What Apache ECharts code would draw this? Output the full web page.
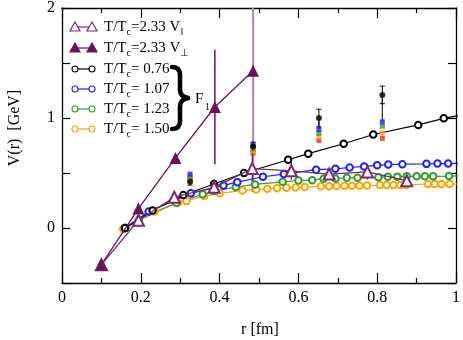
<!DOCTYPE html>
<html>
<head>
<meta charset="utf-8">
<script src="https://cdn.jsdelivr.net/npm/echarts@6/dist/echarts.min.js"></script>
<style>
  html, body { margin: 0; padding: 0; background: #fff; }
  #chart { width: 463px; height: 340px; }
</style>
</head>
<body>
<div id="chart"></div>
<script>
// T/Tc=2.33, perpendicular (filled triangles)
const rPerp = [0.1, 0.194, 0.288, 0.388, 0.485]
const vPerp = [-0.333, 0.177, 0.637, 1.10, 1.43]
const ePerp = [0, 0, 0, 0.52, 1.05]

// T/Tc=2.33, parallel (open triangles)
const rPar = [0.1, 0.194, 0.285, 0.386, 0.483, 0.582, 0.678, 0.775, 0.875]
const vPar = [-0.333, 0.07, 0.28, 0.37, 0.54, 0.52, 0.49, 0.51, 0.43]
const ePar = [0, 0.02, 0.03, 0.07, 0.21, 0.08, 0.03, 0.07, 0.05]

// F1 curves
const r076 = [0.16, 0.23, 0.308, 0.386, 0.462, 0.574, 0.625, 0.715, 0.79, 0.904, 0.969, 1.03]
const v076 = [0.0, 0.16, 0.30, 0.40, 0.50, 0.62, 0.676, 0.766, 0.85, 0.937, 0.997, 1.04]

const r107 = [0.16, 0.22, 0.327, 0.41, 0.445, 0.51, 0.563, 0.645, 0.694, 0.73, 0.767, 0.80, 0.828, 0.864, 0.925, 0.953, 0.98, 1.03]
const v107 = [0.0, 0.15, 0.315, 0.387, 0.417, 0.466, 0.49, 0.53, 0.538, 0.55, 0.56, 0.57, 0.577, 0.58, 0.583, 0.586, 0.586, 0.59]

const r123 = [0.16, 0.195, 0.29, 0.357, 0.386, 0.441, 0.49, 0.56, 0.60, 0.635, 0.664, 0.694, 0.723, 0.75, 0.803, 0.827, 0.851, 0.875, 0.9, 0.921, 0.942, 0.982, 1.03]
const v123 = [0.0, 0.07, 0.23, 0.306, 0.336, 0.372, 0.396, 0.42, 0.432, 0.435, 0.448, 0.45, 0.456, 0.456, 0.462, 0.465, 0.467, 0.47, 0.47, 0.47, 0.47, 0.472, 0.475]

const r150 = [0.155, 0.235, 0.294, 0.316, 0.361, 0.40, 0.458, 0.493, 0.521, 0.546, 0.57, 0.593, 0.616, 0.657, 0.678, 0.697, 0.717, 0.736, 0.755, 0.774, 0.807, 0.824, 0.841, 0.858, 0.874, 0.929, 0.946, 0.963, 0.984, 1.03]
const v150 = [-0.01, 0.15, 0.23, 0.246, 0.29, 0.315, 0.342, 0.351, 0.357, 0.362, 0.366, 0.369, 0.372, 0.38, 0.38, 0.381, 0.384, 0.384, 0.385, 0.386, 0.39, 0.39, 0.39, 0.391, 0.392, 0.40, 0.40, 0.40, 0.40, 0.40]

// lattice points (small squares)
const rLat = [0.325, 0.485, 0.652, 0.813]
const latBlack = [0.42, 0.74, 1.0, 1.21]
const latBlackErr = [0.03, 0.04, 0.08, 0.08]
const latBlue = [0.49, 0.76, 0.895, 0.965]
const latGreen = [0.47, 0.72, 0.86, 0.925]
const latOrange = [0.45, 0.70, 0.83, 0.865]
const latRed = [0.44, 0.68, 0.795, 0.815]

const xTicks = [0, 0.2, 0.4, 0.6, 0.8, 1]
const yTicks = [0, 1, 2]

const FONT = 'Liberation Serif'
const PURPLE = '#6e1257'
const PURPLE_LINE = '#7d2a6e'
const PURPLE_LIGHT = '#b385aa'

const pairs = (xs, ys) => xs.map((x, i) => [x, ys[i]])
const bars = (xs, ys, es) => xs.map((x, i) => [x, ys[i] - es[i], ys[i] + es[i]]).filter(d => d[2] > d[1])

// 误差棒
function errRender(color, width, cap) {
  return function (params, api) {
    const x = api.value(0)
    const top = api.coord([x, api.value(2)])
    const bot = api.coord([x, api.value(1)])
    const children = [{
      type: 'line',
      shape: {x1: top[0], y1: top[1], x2: bot[0], y2: bot[1]},
      style: {stroke: color, lineWidth: width}
    }]
    if (cap) {
      children.push({type: 'line', shape: {x1: top[0] - cap, y1: top[1], x2: top[0] + cap, y2: top[1]}, style: {stroke: color, lineWidth: width}})
      children.push({type: 'line', shape: {x1: bot[0] - cap, y1: bot[1], x2: bot[0] + cap, y2: bot[1]}, style: {stroke: color, lineWidth: width}})
    }
    return {type: 'group', children}
  }
}

function errSeries(data, color, width, cap) {
  return {
    type: 'custom', clip: true, silent: true,
    renderItem: errRender(color, width, cap),
    encode: {x: 0, y: [1, 2]},
    data: data, z: 1
  }
}

function curve(xs, ys, color) {
  return {
    type: 'line', data: pairs(xs, ys), symbol: 'emptyCircle', symbolSize: 6.5,
    lineStyle: {color: color, width: 1.2},
    itemStyle: {color: color, borderColor: color, borderWidth: 1.1},
    z: 3, clip: true
  }
}

function lat(ys, color) {
  return {
    type: 'scatter', data: pairs(rLat, ys), symbol: 'rect', symbolSize: 5,
    itemStyle: {color: color}, z: 4
  }
}

const perpBars = bars(rPerp, vPerp, ePerp)
const blackBars = bars(rLat, latBlack, latBlackErr)
const blackDrop = rLat.map((x, i) => [x, Math.min(latBlue[i], latBlack[i]), latBlack[i]])

const myChart = echarts.init(document.getElementById('chart'))

const axisText = {color: '#000', fontFamily: FONT, fontSize: 16}

// 图例
const legendRows = [27, 48, 69, 89, 109, 129]
const legendTexts = [
  '{a|T/T}{b|c}{a|=2.33 V}{b|‖}',
  '{a|T/T}{b|c}{a|=2.33 V}{b|⊥}',
  '{a|T/T}{b|c}{a|= 0.76}',
  '{a|T/T}{b|c}{a|= 1.07}',
  '{a|T/T}{b|c}{a|= 1.23}',
  '{a|T/T}{b|c}{a|= 1.50}'
]
const legendColors = [PURPLE_LINE, PURPLE, '#000', '#1f1fff', '#2e9e2e', '#ffa500']
const graphics = []
legendRows.forEach((y, i) => {
  const c = legendColors[i]
  graphics.push({type: 'line', shape: {x1: 75, y1: y, x2: 92, y2: y}, style: {stroke: c, lineWidth: 1.2}})
  ;[75, 92].forEach(x => {
    if (i < 2) {
      graphics.push({
        type: 'polygon',
        shape: {points: [[x - 5, y + 4], [x + 5, y + 4], [x, y - 5]]},
        style: {fill: i === 0 ? '#fff' : c, stroke: c, lineWidth: 1.2}
      })
    } else {
      graphics.push({type: 'circle', shape: {cx: x, cy: y, r: 3}, style: {fill: '#fff', stroke: c, lineWidth: 1.1}})
    }
  })
  graphics.push({
    type: 'text', x: 104, y: y,
    style: {
      text: legendTexts[i], verticalAlign: 'middle', align: 'left',
      rich: {
        a: {fontFamily: FONT, fontSize: 15, color: '#000', lineHeight: 20},
        b: {fontFamily: FONT, fontSize: 10, color: '#000', lineHeight: 10, verticalAlign: 'bottom'}
      }
    }
  })
})
// 大括号 + F1
const braceStyle = {stroke: '#000', lineWidth: 4.5, lineCap: 'round', fill: null}
const braceCurves = [
  [172, 67, 180, 75, 178, 67, 180, 70],
  [180, 90, 188, 98, 180, 95, 183, 97],
  [188, 98, 180, 106, 183, 99, 180, 101],
  [180, 121, 172, 129, 180, 126, 178, 129]
]
braceCurves.forEach(b => graphics.push({
  type: 'bezierCurve',
  shape: {x1: b[0], y1: b[1], x2: b[2], y2: b[3], cpx1: b[4], cpy1: b[5], cpx2: b[6], cpy2: b[7]},
  style: braceStyle
}))
graphics.push({type: 'line', shape: {x1: 180, y1: 75, x2: 180, y2: 90}, style: braceStyle})
graphics.push({type: 'line', shape: {x1: 180, y1: 106, x2: 180, y2: 121}, style: braceStyle})
graphics.push({type: 'text', x: 195, y: 99, style: {text: 'F', fontFamily: FONT, fontSize: 15, fill: '#000', verticalAlign: 'middle'}})
graphics.push({type: 'text', x: 205, y: 107, style: {text: '1', fontFamily: FONT, fontSize: 10, fill: '#000', verticalAlign: 'middle'}})
// 轴名
graphics.push({type: 'text', x: 15, y: 128, rotation: Math.PI / 2, style: {text: 'V(r)  [GeV]', fontFamily: FONT, fontSize: 16, fill: '#000', align: 'center', verticalAlign: 'middle'}})
graphics.push({type: 'text', x: 260, y: 330, style: {text: 'r [fm]', fontFamily: FONT, fontSize: 16, fill: '#000', align: 'center', verticalAlign: 'middle'}})

const xBase = {
  type: 'value', min: 0, max: 1, interval: 0.2,
  axisLine: {onZero: false, lineStyle: {color: '#000', width: 1.3}},
  axisTick: {inside: true, length: 10, lineStyle: {color: '#000', width: 1.2}},
  minorTick: {show: true, splitNumber: 2, length: 5, lineStyle: {color: '#000', width: 1.2}},
  splitLine: {show: false}
}
const yBase = {
  type: 'value', min: -0.5, max: 2, interval: 0.5,
  axisLine: {show: true, onZero: false, lineStyle: {color: '#000', width: 1.3}},
  axisTick: {show: true, inside: true, length: 8, lineStyle: {color: '#000', width: 1.2}},
  splitLine: {show: false}
}

myChart.setOption({
  animation: false,
  backgroundColor: '#fff',
  grid: {left: 62, right: 5, top: 7, bottom: 57},
  xAxis: [
    Object.assign({}, xBase, {
      position: 'bottom',
      axisLabel: Object.assign({}, axisText, {margin: 7, formatter: v => xTicks.some(t => Math.abs(t - v) < 1e-6) ? String(+v.toFixed(1)) : ''})
    }),
    Object.assign({}, xBase, {position: 'top', axisLabel: {show: false}})
  ],
  yAxis: [
    Object.assign({}, yBase, {
      position: 'left',
      axisLabel: Object.assign({}, axisText, {margin: 7, formatter: v => yTicks.includes(v) ? String(v) : ''})
    }),
    Object.assign({}, yBase, {position: 'right', axisLabel: {show: false}})
  ],
  graphic: graphics,
  series: [
    errSeries(perpBars.slice(0, 1), PURPLE, 1.5, 0),
    errSeries(perpBars.slice(1), PURPLE_LIGHT, 2, 0),
    errSeries(bars(rPar, vPar, ePar), PURPLE, 1.2, 0),
    errSeries(blackDrop, '#000', 1, 0),
    errSeries(blackBars, '#000', 1, 2.5),
    curve(r150, v150, '#ffa500'),
    curve(r123, v123, '#2e9e2e'),
    curve(r107, v107, '#1f1fff'),
    curve(r076, v076, '#000'),
    {
      type: 'line', data: pairs(rPar, vPar), symbol: 'emptyTriangle', symbolSize: 11,
      lineStyle: {color: PURPLE_LINE, width: 1.3},
      itemStyle: {color: PURPLE_LINE, borderColor: PURPLE_LINE, borderWidth: 1.2}, z: 5
    },
    {
      type: 'line', data: pairs(rPerp, vPerp), symbol: 'triangle', symbolSize: 12,
      lineStyle: {color: PURPLE, width: 1.3},
      itemStyle: {color: PURPLE}, z: 6
    },
    lat(latRed, '#ff2020'),
    lat(latOrange, '#ffa500'),
    lat(latGreen, '#2e9e2e'),
    lat(latBlue, '#1f1fff'),
    Object.assign(lat(latBlack, '#000'), {symbol: 'circle', symbolSize: 6})
  ]
})
</script>
</body>
</html>
